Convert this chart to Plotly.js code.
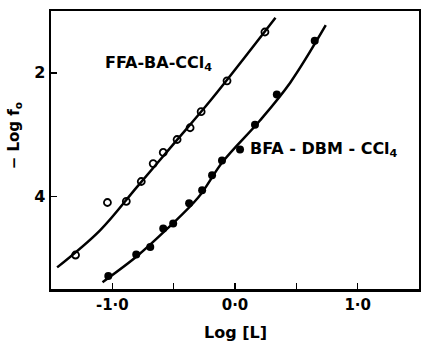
<!DOCTYPE html>
<html>
<head>
<meta charset="utf-8">
<script src="https://cdn.plot.ly/plotly-3.0.1.min.js"></script>
<style>html,body{margin:0;padding:0;background:#fff;}#chart{width:421px;height:344px;}</style>
</head>
<body>
<div id="chart"></div>
<script>
// FFA-BA-CCl4 (open circles)
const ffaX = [-1.30, -1.04, -0.886, -0.764, -0.667, -0.585, -0.472, -0.366, -0.276, -0.065, 0.244];
const ffaY = [4.95, 4.10, 4.08, 3.76, 3.47, 3.29, 3.08, 2.89, 2.63, 2.13, 1.34];
// fitted curve
const ffaCurveX = [-1.45, -1.10, -0.80, -0.50, -0.20, 0.33];
const ffaCurveY = [5.15, 4.55, 3.85, 3.15, 2.45, 1.11];

// BFA-DBM-CCl4 (filled circles)
const bfaX = [-1.033, -0.805, -0.691, -0.585, -0.504, -0.374, -0.268, -0.187, -0.106, 0.041, 0.163, 0.341, 0.650];
const bfaY = [5.29, 4.94, 4.82, 4.52, 4.44, 4.11, 3.90, 3.66, 3.42, 3.24, 2.84, 2.35, 1.48];
const bfaCurveX = [-1.08, -0.80, -0.55, -0.30, -0.10, 0.20, 0.45, 0.74];
const bfaCurveY = [5.39, 4.97, 4.52, 4.02, 3.44, 2.78, 2.16, 1.23];

const xTickVals = [-1.0, 0.0, 1.0];
const xTickText = ['-1·0', '0·0', '1·0'];
const xMinorTickVals = [-0.5, 0.5];
const yTickVals = [2, 4];
const yTickText = ['2', '4'];

const font = 'DejaVu Sans, sans-serif';

const traces = [
  {x: ffaCurveX, y: ffaCurveY, mode: 'lines', line: {color: '#000', width: 2.5, shape: 'spline'}, hoverinfo: 'skip'},
  {x: bfaCurveX, y: bfaCurveY, mode: 'lines', line: {color: '#000', width: 2.5, shape: 'spline'}, hoverinfo: 'skip'},
  {x: ffaX, y: ffaY, mode: 'markers', marker: {symbol: 'circle-open', size: 7, color: '#000', line: {width: 1.8, color: '#000'}}},
  {x: bfaX, y: bfaY, mode: 'markers', marker: {symbol: 'circle', size: 8, color: '#000'}}
];

const layout = {
  width: 421, height: 344,
  margin: {l: 51, r: 2, t: 11, b: 55},
  showlegend: false,
  paper_bgcolor: '#fff', plot_bgcolor: '#fff',
  font: {family: font, color: '#000', size: 14},
  xaxis: {
    range: [-1.5, 1.5], showgrid: false, zeroline: false,
    showline: true, linecolor: '#000', linewidth: 2.5, mirror: true,
    ticks: 'inside', ticklen: 6, tickwidth: 1.5, tickcolor: '#000',
    tickmode: 'array', tickvals: xTickVals, ticktext: xTickText,
    minor: {tickmode: 'array', tickvals: xMinorTickVals, ticks: 'inside', ticklen: 6, tickwidth: 1.5, tickcolor: '#000', showgrid: false},
    tickfont: {family: font, size: 15, color: '#000', weight: 'bold'}
  },
  yaxis: {
    range: [5.5, 1.0], showgrid: false, zeroline: false,
    showline: true, linecolor: '#000', linewidth: 2.5, mirror: true,
    ticks: 'inside', ticklen: 6, tickwidth: 1.5, tickcolor: '#000',
    tickvals: yTickVals, ticktext: yTickText,
    tickfont: {family: font, size: 16, color: '#000', weight: 'bold'}
  },
  annotations: [
    {x: -1.08, y: 1.85, xref: 'x', yref: 'y', xanchor: 'left', yanchor: 'middle', showarrow: false,
     text: 'FFA-BA-CCl<sub>4</sub>', font: {family: font, size: 16, color: '#000', weight: 'bold'}},
    {x: 0.106, y: 3.24, xref: 'x', yref: 'y', xanchor: 'left', yanchor: 'middle', showarrow: false,
     text: 'BFA - DBM - CCl<sub>4</sub>', font: {family: font, size: 16, color: '#000', weight: 'bold'}},
    {x: -0.10, y: 0.55, xref: 'paper', yref: 'paper', xanchor: 'center', yanchor: 'middle', showarrow: false,
     textangle: -90, text: '− Log f<sub>o</sub>', font: {family: font, size: 15, color: '#000', weight: 'bold'}},
    {x: 0.5, y: -0.155, xref: 'paper', yref: 'paper', xanchor: 'center', yanchor: 'middle', showarrow: false,
     text: 'Log [L]', font: {family: font, size: 16, color: '#000', weight: 'bold'}}
  ]
};

Plotly.newPlot('chart', traces, layout, {displayModeBar: false, staticPlot: true});
</script>
</body>
</html>
